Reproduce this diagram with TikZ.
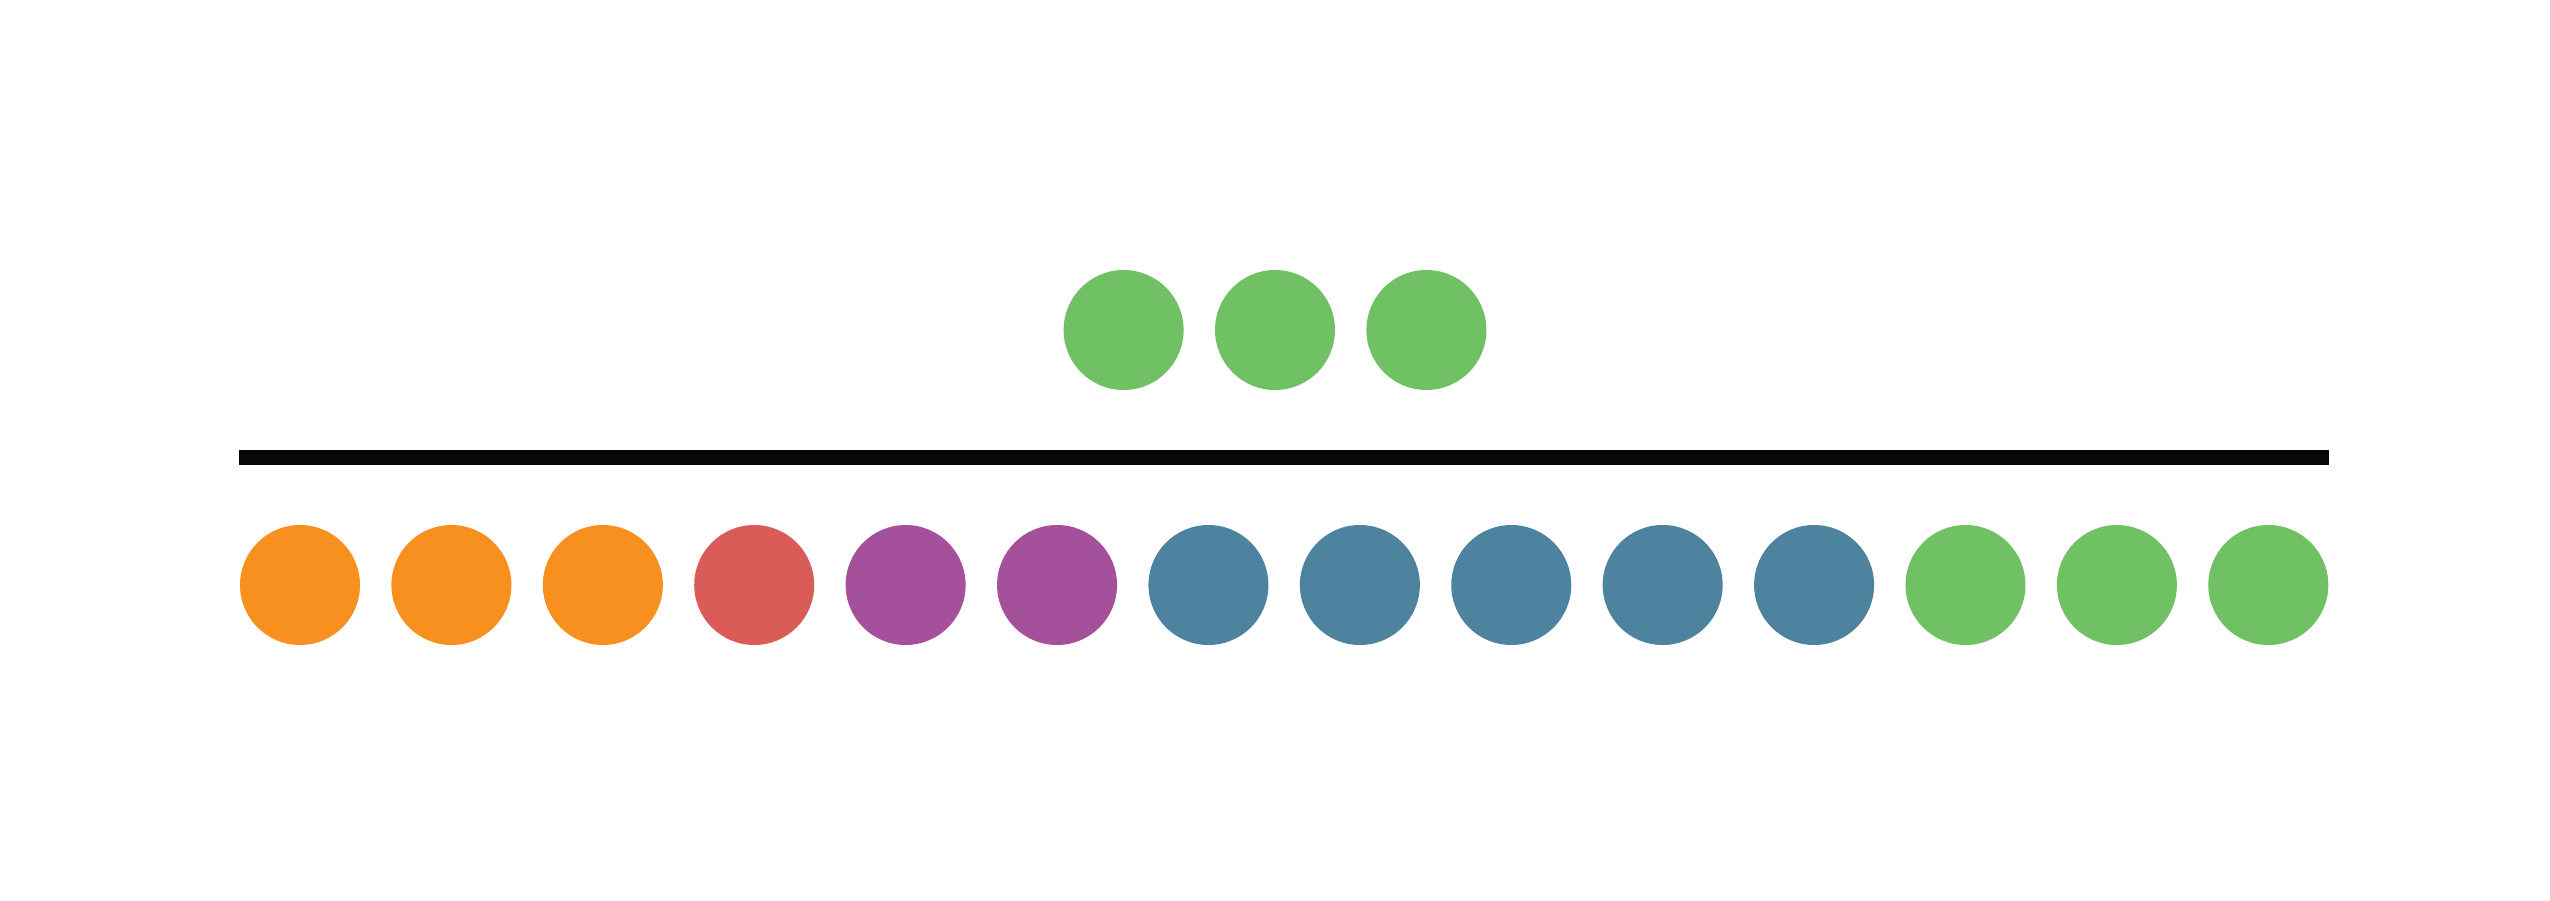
\documentclass[tikz,border=0pt]{standalone}
\usetikzlibrary{calc}
\usetikzlibrary{positioning}

\definecolor{dotorange}{HTML}{F7901F}
\definecolor{dotred}{HTML}{D95C58}
\definecolor{dotpurple}{HTML}{A4509B}
\definecolor{dotblue}{HTML}{4D839F}
\definecolor{dotgreen}{HTML}{6FC164}
\definecolor{rulecolor}{HTML}{080705}

\begin{document}
\begin{tikzpicture}[
    dot/.style={circle, inner sep=0, minimum size=1.2cm, draw=none},
    rule/.style={line width=0.15cm, color=rulecolor}
  ]
  \fill[white] (0,0) rectangle (25.5,9);
  \useasboundingbox (0,0) rectangle (25.5,9);

  % bottom row
  \node[dot, fill=dotorange] (b1) at (3,3.15) {};
  \foreach \c [count=\i from 2, remember=\i as \j (initially 1)] in
    {dotorange, dotorange, dotred, dotpurple, dotpurple, dotblue, dotblue,
     dotblue, dotblue, dotblue, dotgreen, dotgreen, dotgreen}
    \node[dot, fill=\c, right=3mm of b\j] (b\i) {};

  % top row
  \node[dot, fill=dotgreen] (t2) at (12.75,5.7) {};
  \node[dot, fill=dotgreen, left=3mm of t2] (t1) {};
  \node[dot, fill=dotgreen, right=3mm of t2] (t3) {};

  \coordinate (rule_l) at ($(b1.west)+(0,1.275)$);
  \coordinate (rule_r) at ($(b14.east)+(0,1.275)$);
  \draw[rule] (rule_l) -- (rule_r);
\end{tikzpicture}
\end{document}
